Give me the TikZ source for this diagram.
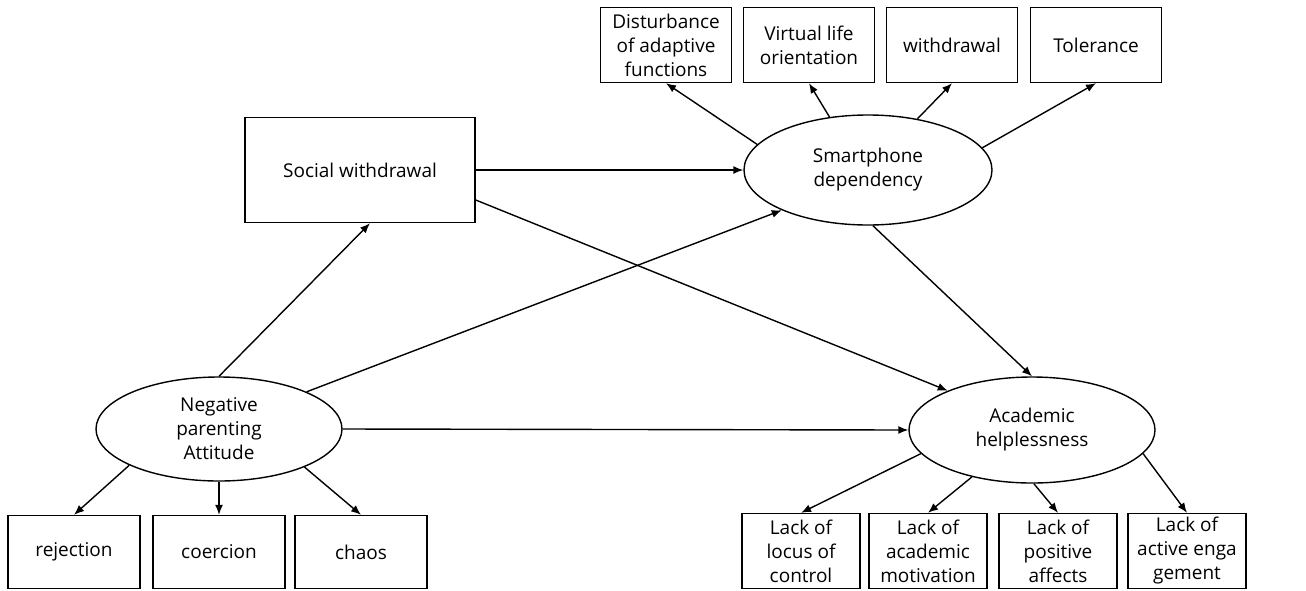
\documentclass[tikz,border=0pt]{standalone}
\usepackage{fontspec}
\setmainfont{Open Sans}
\usetikzlibrary{shapes.geometric,arrows.meta}

\begin{document}
\begin{tikzpicture}[x=1pt,y=-1pt,>={Latex[length=10pt,width=8pt]},
  box/.style={draw,line width=1.4pt,align=center,inner sep=0pt,font=\fontsize{19}{24}\selectfont},
  latent/.style={draw,ellipse,line width=1.4pt,align=center,inner sep=0pt,font=\fontsize{19}{24}\selectfont},
  link/.style={->,line width=1.4pt}]
\useasboundingbox (0,0) rectangle (1306,590);
\node [latent, minimum width=248pt, minimum height=110pt] (sd) at (868,170) {Smartphone\\dependency};
\node [latent, minimum width=246pt, minimum height=104pt] (np) at (219,429) {Negative\\parenting\\Attitude};
\node [latent, minimum width=246pt, minimum height=106pt] (ah) at (1032,430) {Academic\\helplessness};
\node [box, minimum width=230pt, minimum height=105pt] (sw) at (360,170) {Social withdrawal};
\node [box, minimum width=131pt, minimum height=75pt] (dis) at (666,45) {Disturbance\\of adaptive\\functions};
\node [box, minimum width=131pt, minimum height=75pt] (vir) at (809,45) {Virtual life\\orientation};
\node [box, minimum width=131pt, minimum height=75pt] (wd) at (952,45) {withdrawal};
\node [box, minimum width=131pt, minimum height=75pt] (tol) at (1096,45) {Tolerance};
\node [box, minimum width=132pt, minimum height=73pt] (rej) at (74,552) {rejection};
\node [box, minimum width=132pt, minimum height=73pt] (coe) at (219,552) {coercion};
\node [box, minimum width=132pt, minimum height=73pt] (cha) at (361,552) {chaos};
\node [box, minimum width=118pt, minimum height=75pt] (loc) at (801,551) {Lack of\\locus of\\control};
\node [box, minimum width=118pt, minimum height=75pt] (mot) at (928,551) {Lack of\\academic\\motivation};
\node [box, minimum width=118pt, minimum height=75pt] (aff) at (1058,551) {Lack of\\positive\\affects};
\node [box, minimum width=118pt, minimum height=75pt] (eng) at (1187,551) {Lack of\\active enga\\gement};
\draw [link] (sw.east) -- (sd.west);
\draw [link] ([yshift=-30pt]sw.east) -- (ah.155);
\draw [link] (np.north) -- ([xshift=10pt]sw.south);
\draw [link] (np.23) -- (sd.205);
\draw [link] (np.east) -- (ah.west);
\draw [link] (sd.275) -- (ah.north);
\draw [link] (sd.167) -- (dis.south);
\draw [link] (sd.126) -- (vir.south);
\draw [link] (sd.46) -- (wd.south);
\draw [link] (sd.11) -- (tol.south);
\draw [link] (np.202) -- (rej.north);
\draw [link] (np.south) -- (coe.north);
\draw [link] (np.336) -- (cha.north);
\draw [link] (ah.192) -- (loc.north);
\draw [link] (ah.218) -- (mot.north);
\draw [link] (ah.272) -- (aff.north);
\draw [link] (ah.348) -- (eng.north);
\end{tikzpicture}
\end{document}
